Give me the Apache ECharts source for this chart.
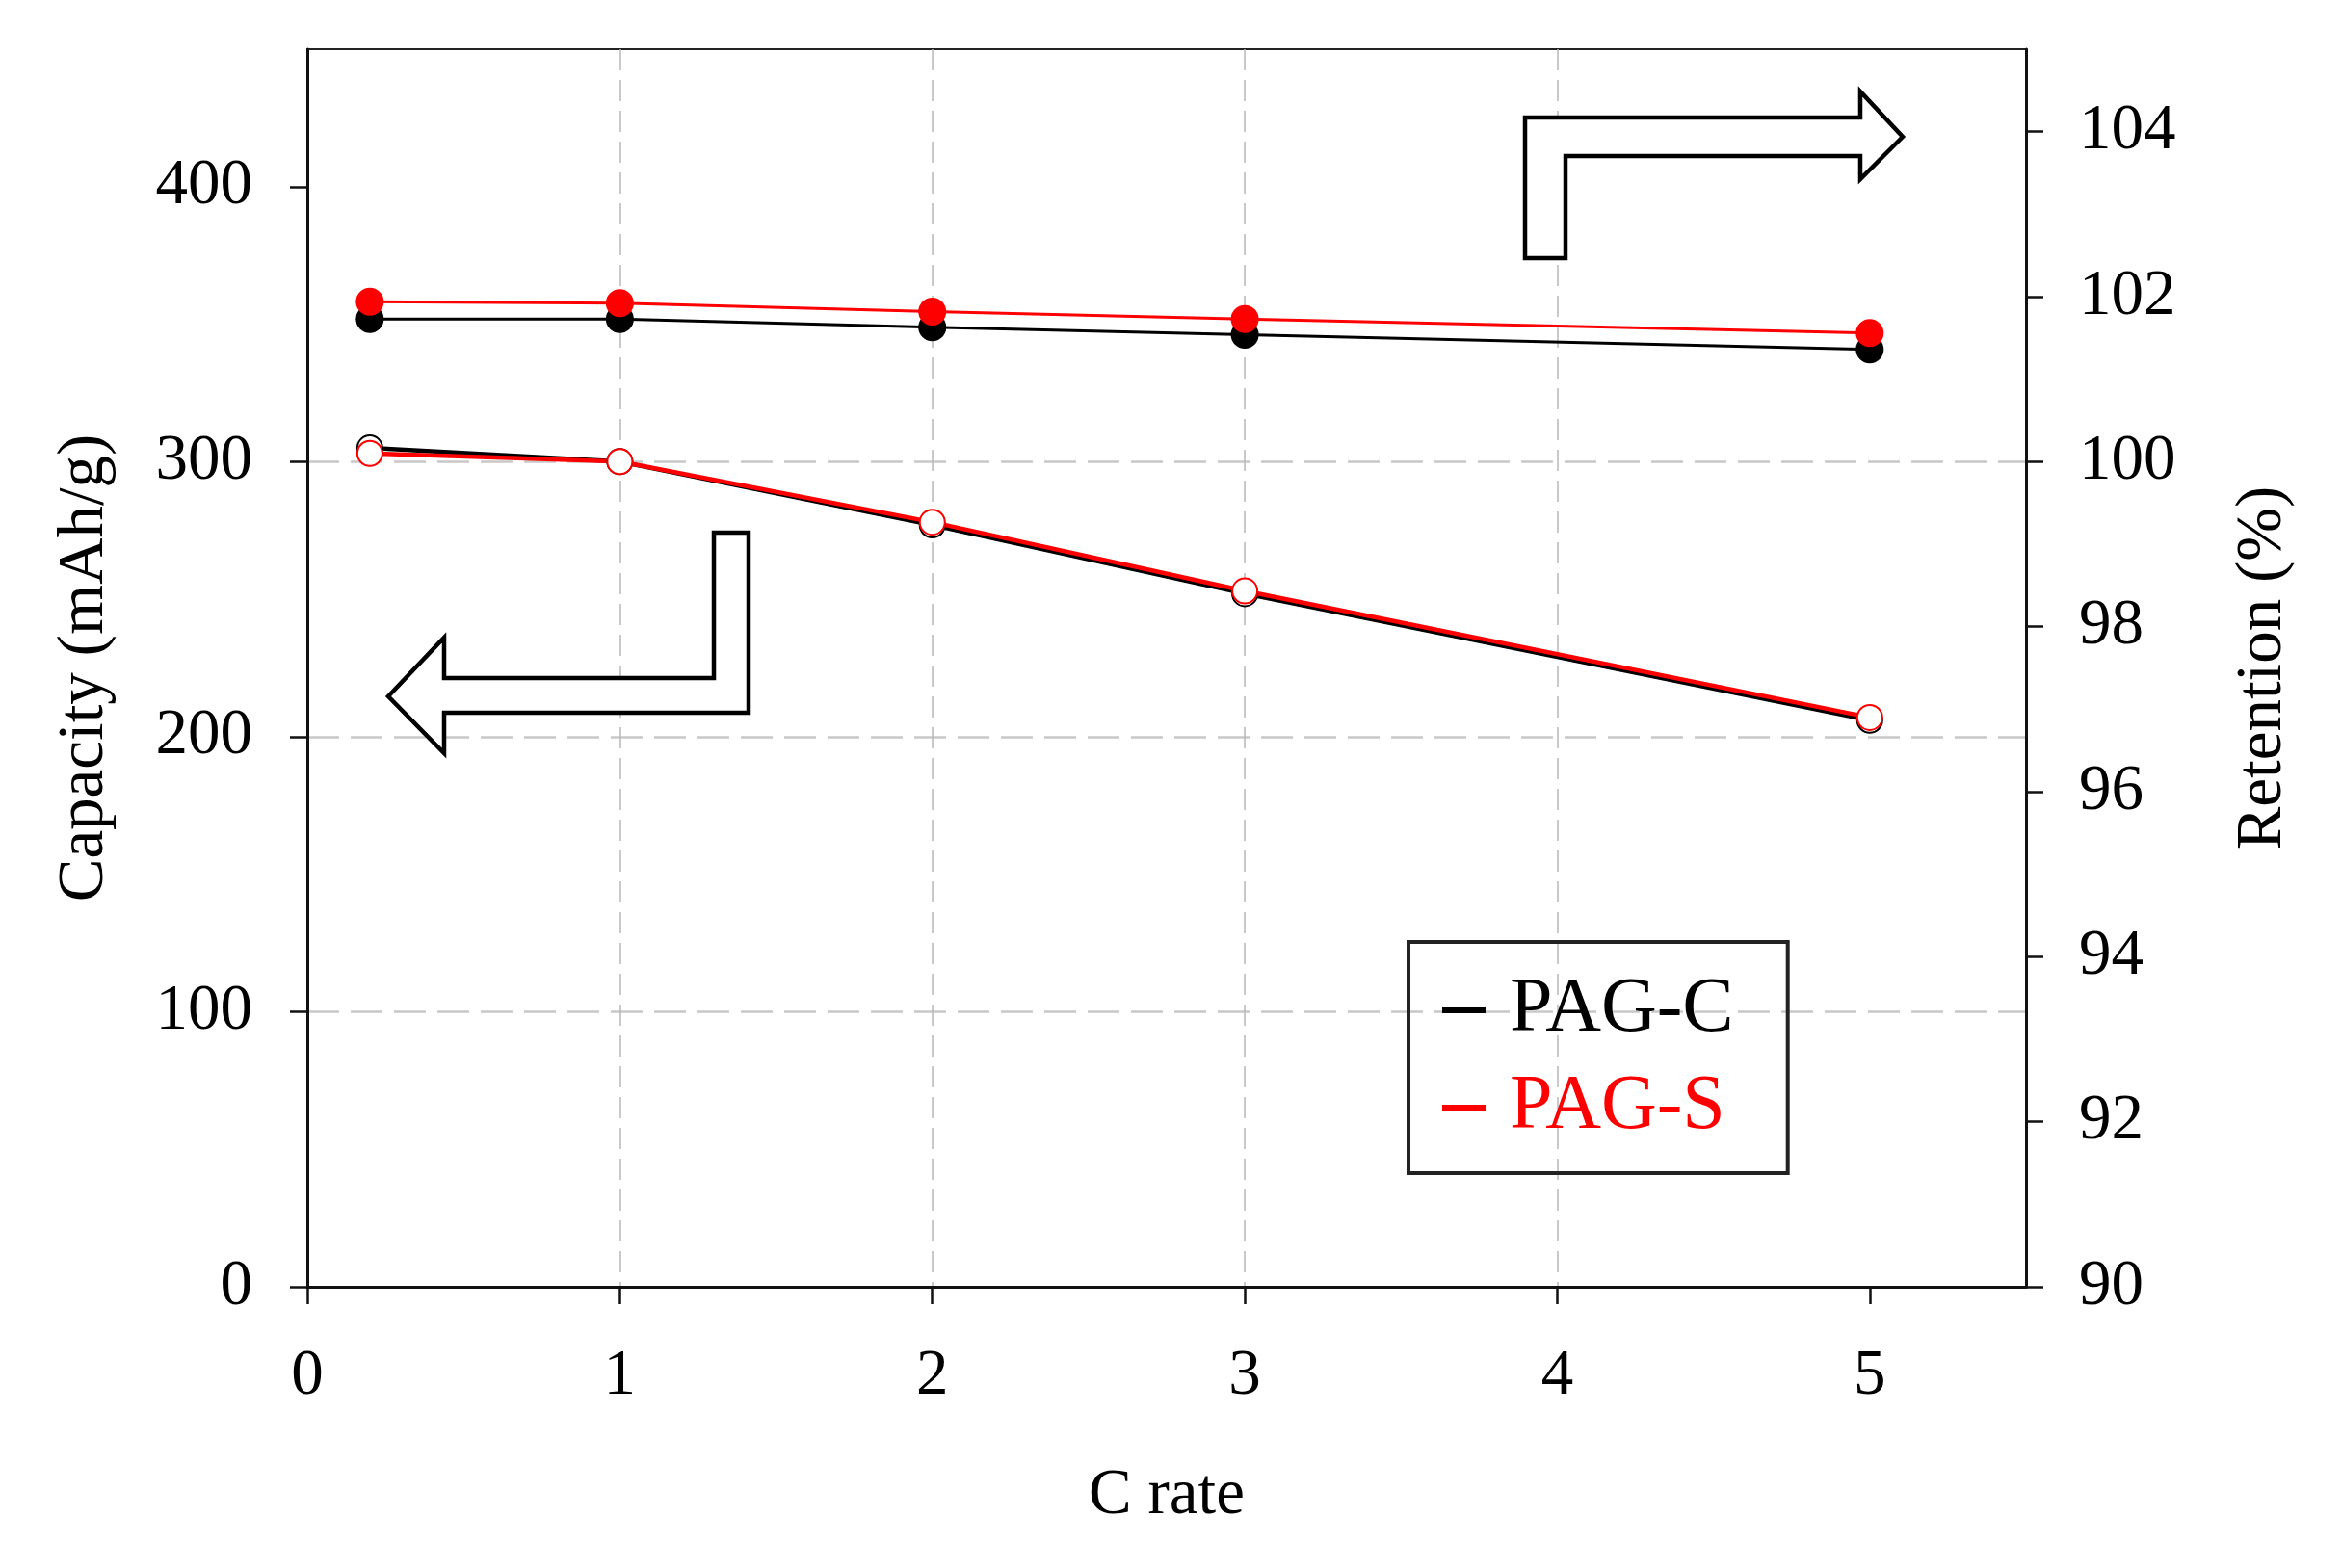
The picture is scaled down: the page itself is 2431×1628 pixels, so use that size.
<!DOCTYPE html>
<html>
<head>
<meta charset="utf-8">
<script src="https://cdn.jsdelivr.net/npm/echarts@6/dist/echarts.min.js"></script>
<style>
  html, body { margin: 0; padding: 0; background: #fff; }
  #main { width: 2431px; height: 1628px; }
</style>
</head>
<body>
<div id="main"></div>
<script>
// C rate values (x)
var cRate = [0.2, 1, 2, 3, 5];
// capacity, mAh/g (left axis, open circles)
var capacityC = [305, 300, 277, 252, 206];
var capacityS = [303, 300, 278, 253, 207];
// retention, % (right axis, filled circles)
var retentionC = [101.73, 101.73, 101.63, 101.54, 101.36];
var retentionS = [101.94, 101.92, 101.82, 101.73, 101.56];

// tick positions that carry a tick mark
var xTicks = [0, 1, 2, 3, 4, 5];
var capTicks = [0, 100, 200, 300, 400];
var retTicks = [90, 92, 94, 96, 98, 100, 102, 104];

var seriesNames = ["PAG-C", "PAG-S"];
var seriesColors = ["#000000", "#ff0000"];

var FONT = "Liberation Serif";

function pairs(xs, ys) {
  var out = [];
  for (var i = 0; i < xs.length; i++) out.push([xs[i], ys[i]]);
  return out;
}

var myChart = echarts.init(document.getElementById("main"));

var axisLineStyle = { color: "#111", width: 3 };
var tickStyle = { color: "#111", width: 2.5 };
var labelStyle = { color: "#000", fontFamily: FONT, fontSize: 67 };

var option = {
  backgroundColor: "#fff",
  animation: false,
  grid: {
    left: 319,
    right: 328,
    top: 51,
    bottom: 292,
    show: true,
    borderColor: "#222",
    borderWidth: 2
  },
  legend: {
    left: 1462,
    top: 978,
    orient: "vertical",
    icon: "rect",
    itemWidth: 45,
    itemHeight: 6,
    itemGap: 21,
    padding: [31, 56, 28, 35],
    borderColor: "#222",
    borderWidth: 4,
    textStyle: { fontFamily: FONT, fontSize: 80, padding: [0, 0, 0, 20] },
    data: [
      { name: seriesNames[0], textStyle: { color: seriesColors[0] } },
      { name: seriesNames[1], textStyle: { color: seriesColors[1] } }
    ]
  },
  xAxis: {
    type: "value",
    min: 0,
    max: 5.5,
    interval: 1,
    name: "C rate",
    nameLocation: "middle",
    nameGap: 184,
    nameTextStyle: labelStyle,
    axisLine: { lineStyle: axisLineStyle },
    axisTick: { length: 18, lineStyle: tickStyle, customValues: xTicks },
    axisLabel: Object.assign({ margin: 60, showMaxLabel: false }, labelStyle),
    splitLine: {
      show: true,
      showMinLine: false,
      showMaxLine: false,
      lineStyle: { color: "#b8b8b8", width: 1.5, type: [22, 10] }
    }
  },
  yAxis: [
    {
      type: "value",
      position: "left",
      min: 0,
      max: 450,
      interval: 100,
      name: "Capacity (mAh/g)",
      nameLocation: "middle",
      nameRotate: 90,
      nameGap: 197,
      nameTextStyle: labelStyle,
      axisLine: { show: true, lineStyle: axisLineStyle },
      axisTick: { show: true, length: 18, lineStyle: tickStyle, customValues: capTicks },
      axisLabel: Object.assign({ margin: 57, showMaxLabel: false, padding: [16, 0, 0, 0] }, labelStyle),
      splitLine: {
        show: true,
        showMinLine: false,
        showMaxLine: false,
        lineStyle: { color: "#c8c8c8", width: 2.5, type: [33, 12] }
      }
    },
    {
      type: "value",
      position: "right",
      min: 90,
      max: 105,
      interval: 2,
      name: "Retention (%)",
      nameLocation: "middle",
      nameRotate: 90,
      nameGap: 213,
      nameTextStyle: labelStyle,
      axisLine: { show: true, lineStyle: axisLineStyle },
      axisTick: { show: true, length: 18, lineStyle: tickStyle, customValues: retTicks },
      axisLabel: Object.assign({ margin: 55, showMaxLabel: false, padding: [16, 0, 0, 0] }, labelStyle),
      splitLine: { show: false }
    }
  ],
  series: [
    {
      name: seriesNames[0],
      type: "line",
      yAxisIndex: 0,
      data: pairs(cRate, capacityC),
      symbol: "emptyCircle",
      symbolSize: 26,
      color: seriesColors[0],
      lineStyle: { width: 4.5, color: seriesColors[0] },
      itemStyle: { color: seriesColors[0], borderWidth: 2.5 }
    },
    {
      name: seriesNames[1],
      type: "line",
      yAxisIndex: 0,
      data: pairs(cRate, capacityS),
      symbol: "emptyCircle",
      symbolSize: 26,
      color: seriesColors[1],
      lineStyle: { width: 4.5, color: seriesColors[1] },
      itemStyle: { color: seriesColors[1], borderWidth: 2.5 }
    },
    {
      name: seriesNames[0],
      type: "line",
      yAxisIndex: 1,
      data: pairs(cRate, retentionC),
      symbol: "circle",
      symbolSize: 29,
      color: seriesColors[0],
      lineStyle: { width: 3, color: seriesColors[0] },
      itemStyle: { color: seriesColors[0] }
    },
    {
      name: seriesNames[1],
      type: "line",
      yAxisIndex: 1,
      data: pairs(cRate, retentionS),
      symbol: "circle",
      symbolSize: 29,
      color: seriesColors[1],
      lineStyle: { width: 3, color: seriesColors[1] },
      itemStyle: { color: seriesColors[1] }
    }
  ],
  // the two bent arrows pointing at the axes
  graphic: [
    {
      type: "polygon",
      z: 10,
      shape: {
        points: [[403, 723], [461, 662], [461, 704], [741, 704], [741, 553],
                 [777, 553], [777, 740], [461, 740], [461, 782]]
      },
      style: { fill: "#fff", stroke: "#000", lineWidth: 4.5 }
    },
    {
      type: "polygon",
      z: 10,
      shape: {
        points: [[1583, 268], [1583, 122], [1931, 122], [1931, 95], [1975, 142],
                 [1931, 186], [1931, 162], [1625, 162], [1625, 268]]
      },
      style: { fill: "#fff", stroke: "#000", lineWidth: 4.5 }
    }
  ]
};

myChart.setOption(option);
</script>
</body>
</html>
